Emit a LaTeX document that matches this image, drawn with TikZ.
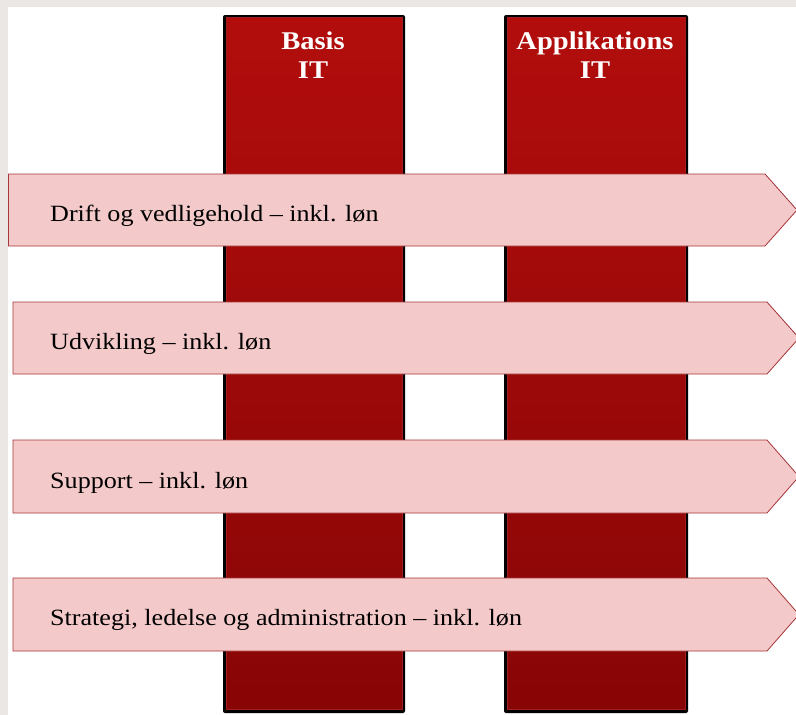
\documentclass[tikz,border=0pt]{standalone}
\usepackage{fontspec}
\setmainfont{Liberation Serif}[FakeStretch=1.12]
\usetikzlibrary{positioning}
\definecolor{pagegray}{RGB}{234,231,228}
\definecolor{pillartop}{RGB}{178,13,13}
\definecolor{pillarbottom}{RGB}{136,5,5}
\definecolor{pillaredge}{RGB}{160,30,30}
\definecolor{bandpink}{RGB}{244,201,201}
\definecolor{bandedge}{RGB}{165,55,58}
\tikzset{
  pillarshadow/.style={fill=black, rounded corners=2pt},
  pillar/.style={draw=pillaredge, line width=.6pt,
    top color=pillartop, bottom color=pillarbottom},
  pillartitle/.style={text=white, align=center, font=\fontsize{25.5}{29}\selectfont\bfseries,
    inner sep=0pt, anchor=north},
  band/.style={draw=bandedge, line width=.8pt, fill=bandpink},
  bandlabel/.style={anchor=base west, inner sep=0pt, font=\fontsize{23.3}{28}\selectfont}
}

\begin{document}
\begin{tikzpicture}[x=1pt,y=-1pt]
  % page
  \fill[pagegray] (0,0) rectangle (796,715);
  \fill[white] (8,7) rectangle (796,715);
  \useasboundingbox (0,0) rectangle (796,715);

  % Columns
  \fill[pillarshadow] (223,15) rectangle (405,713);
  \shade[pillar] (226,17) rectangle (402,709);
  \fill[pillarshadow] (504,15) rectangle (688,713);
  \shade[pillar] (507,17) rectangle (685,709);
  \node[pillartitle] (basis) at (313,31.5) {Basis\\IT};
  \node[pillartitle] (appl) at (595,31.5) {Applikations\\IT};

  % Bands across the columns
  \draw[band] (8.5,174) -- (765,174) -- (797,210) -- (765,246) -- (8.5,246) -- cycle;
  \draw[band] (13,302) -- (767,302) -- (799,338) -- (767,374) -- (13,374) -- cycle;
  \draw[band] (13,440) -- (767,440) -- (799,476.5) -- (767,513) -- (13,513) -- cycle;
  \draw[band] (13,578) -- (767,578) -- (799,614.5) -- (767,651) -- (13,651) -- cycle;

  \node[bandlabel] (drift) at (50,221) {Drift og vedligehold – inkl. løn};
  \node[bandlabel] (udvikling) at (50,349) {Udvikling – inkl. løn};
  \node[bandlabel] (support) at (50,488) {Support – inkl. løn};
  \node[bandlabel] (strategi) at (50,625) {Strategi, ledelse og administration – inkl. løn};
\end{tikzpicture}
\end{document}
